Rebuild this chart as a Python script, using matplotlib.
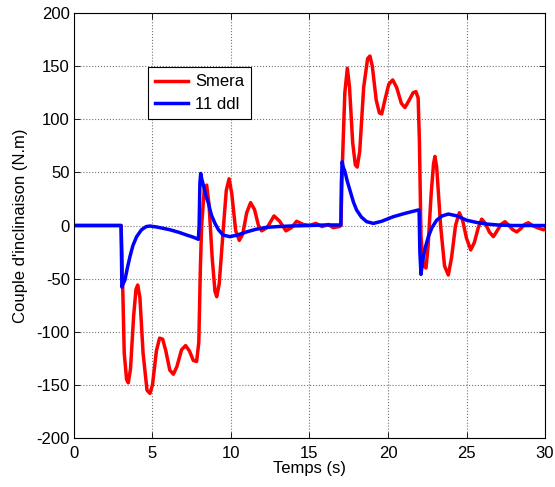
import numpy as np
import matplotlib.pyplot as plt

# Smera curve (time in s, couple in N.m)
t_smera = [0, 3.0, 3.06, 3.2, 3.35, 3.46, 3.6, 3.8, 3.95, 4.06, 4.2, 4.4, 4.65, 4.84, 5.0, 5.25, 5.45, 5.65,
           5.85, 6.1, 6.33, 6.55, 6.85, 7.11, 7.35, 7.6, 7.81, 7.95, 8.05, 8.13, 8.3, 8.45, 8.6, 8.8, 8.98,
           9.09, 9.25, 9.5, 9.7, 9.88, 10.05, 10.3, 10.53, 10.75, 11.0, 11.25, 11.5, 11.75, 11.95, 12.3,
           12.74, 13.1, 13.5, 13.85, 14.18, 14.6, 15.0, 15.4, 15.8, 16.2, 16.5, 16.9, 17.0, 17.1, 17.25,
           17.41, 17.55, 17.75, 17.92, 18.04, 18.2, 18.45, 18.7, 18.85, 19.0, 19.25, 19.45, 19.6, 19.8, 20.05,
           20.3, 20.55, 20.85, 21.08, 21.35, 21.6, 21.78, 21.92, 22.0, 22.1, 22.25, 22.42, 22.55, 22.75,
           22.9, 22.99, 23.1, 23.35, 23.6, 23.84, 24.05, 24.3, 24.54, 24.75, 25.0, 25.27, 25.5, 25.75,
           25.97, 26.2, 26.45, 26.71, 26.95, 27.2, 27.45, 27.7, 27.95, 28.2, 28.45, 28.7, 28.94, 29.2,
           29.5, 29.9, 30.0]
y_smera = [0, 0, -30, -120, -145, -148, -135, -85, -60, -56, -68, -120, -155, -158, -150, -118, -106, -107,
           -118, -136, -140, -133, -117, -113, -118, -127, -128, -110, -40, 0, 34, 38, 20, -30, -62,
           -67, -55, -5, 33, 44, 30, -5, -14, -8, 12, 21.5, 15, 0, -5, -2,
           9, 4, -5, -2, 4, 1, 0, 2, -1, 1, -2, -1, 0, 60, 125,
           148, 130, 78, 57, 55, 70, 130, 157, 159.5, 150, 118, 106, 105, 118, 133,
           137, 130, 115, 111, 118, 125, 126, 120, 80, -10, -38, -40, -20, 30,
           58, 65, 55, 0, -38, -46.6, -30, 0, 12, 5, -12, -23, -16, -2,
           6, 2, -6, -10.5, -5, 1, 3.6, 0, -4, -6, -3, 1, 2.6, 0,
           -2, -4, -3]

# 11 ddl curve
t_ddl = [0, 3.0, 3.03, 3.05, 3.1, 3.25, 3.4, 3.57, 3.75, 3.99, 4.3, 4.6, 4.84, 5.3, 6.11, 6.7, 7.18, 7.6, 7.92,
         7.97, 8.02, 8.07, 8.15, 8.24, 8.4, 8.56, 8.75, 8.98, 9.2, 9.5, 9.94, 10.4, 11.0, 11.6, 12.27,
         13.0, 13.76, 15.0, 16.0, 17.0, 17.03, 17.08, 17.15, 17.26, 17.4, 17.58, 17.8, 18.0, 18.3,
         18.64, 19.07, 19.6, 20.34, 21.1, 21.93, 21.98, 22.03, 22.1, 22.2, 22.35, 22.57, 22.8, 23.1,
         23.45, 23.84, 24.4, 25.0, 25.6, 26.27, 27.0, 28.0, 29.0, 30.0]
y_ddl = [0, 0, -35, -58, -56, -51, -40, -29, -19, -10.5, -4, -1, -0.5, -1.5, -4, -6.5, -9, -11, -13,
         0, 40, 49, 43, 38, 28, 21, 10, 2, -4, -9, -10.5, -9, -6, -3.5, -1.7,
         -1, -0.5, 0, 0.5, 0.5, 40, 60, 55, 50.6, 42, 33, 22, 14.6, 8,
         3.6, 2, 4, 8.3, 11.5, 14.6, 14.5, -25, -46, -34, -22, -10.5, -2, 5,
         9, 10.8, 9, 5, 3, 1.4, 0.5, 0, 0, 0]

x_ticks = [0, 5, 10, 15, 20, 25, 30]
y_ticks = [-200, -150, -100, -50, 0, 50, 100, 150, 200]

plt.rcParams['font.family'] = ['Liberation Sans', 'DejaVu Sans']
plt.rcParams['font.size'] = 12
plt.rcParams['axes.unicode_minus'] = False

fig = plt.figure(figsize=(5.55, 4.87), dpi=100)
ax = fig.add_axes([0.1333, 0.1006, 0.8487, 0.8727])

ax.plot(t_smera, y_smera, color='#ff0000', lw=2.5, label='Smera')
ax.plot(t_ddl, y_ddl, color='#0000ff', lw=2.5, label='11 ddl')

ax.set_xlim(0, 30)
ax.set_ylim(-200, 200)
ax.set_xticks(x_ticks)
ax.set_yticks(y_ticks)
ax.tick_params(direction='in', top=True, right=True, length=4, width=0.6, pad=3)
ax.tick_params(axis='x', pad=6)
ax.grid(True, linestyle=':', color='0.45', lw=0.8)
for s in ax.spines.values():
    s.set_linewidth(0.8)

ax.set_xlabel('Temps (s)', labelpad=0)
ax.set_ylabel("Couple d'inclinaison (N.m)", labelpad=6)

leg = ax.legend(loc='upper left', bbox_to_anchor=(0.157, 0.872), fancybox=False, framealpha=1,
                edgecolor='black', borderpad=0.42, handlelength=2.0, labelspacing=0.45,
                handletextpad=0.4, borderaxespad=0)
leg.get_frame().set_linewidth(0.8)

fig.savefig('out.png', dpi=100)
